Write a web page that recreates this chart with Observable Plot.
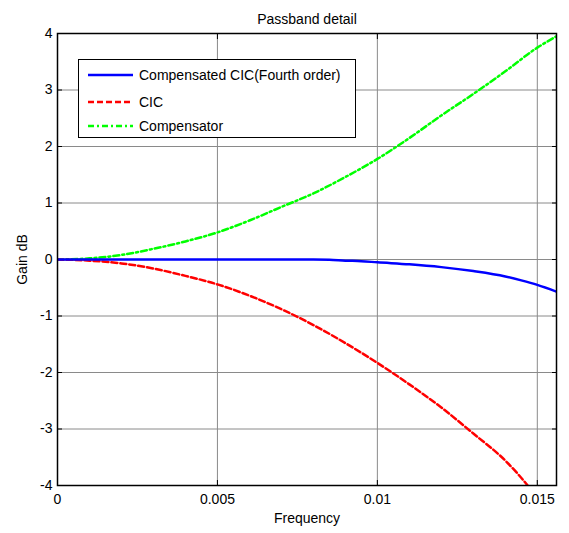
<!DOCTYPE html>
<html><head><meta charset="utf-8">
<script src="https://cdn.jsdelivr.net/npm/d3@7"></script>
<script src="https://cdn.jsdelivr.net/npm/@observablehq/plot@0.6"></script>
<style>
body{margin:0;background:#fff;font-family:"Liberation Sans",Arial,sans-serif}
#wrap{position:relative;width:569px;height:533px}
#legend{position:absolute;left:78px;top:59px}
</style></head><body><div id="wrap"></div>
<script>
const titleText = "Passband detail";
const xLabel = "Frequency";
const yLabel = "Gain dB";
const xTicks = [0, 0.005, 0.01, 0.015];
const xTickLabels = ["0", "0.005", "0.01", "0.015"];
const yTicks = [-4, -3, -2, -1, 0, 1, 2, 3, 4];
const yTickLabels = ["-4", "-3", "-2", "-1", "0", "1", "2", "3", "4"];
const seriesNames = ["Compensated CIC(Fourth order)", "CIC", "Compensator"];
const seriesColors = ["#0000ff", "#ff0000", "#00ff00"];
const seriesDash = [null, "6,3", "6,3,2,3"];

const compFreq = [0, 0.001, 0.002, 0.003, 0.004, 0.005, 0.006, 0.007, 0.008, 0.0085, 0.009, 0.0095, 0.010, 0.011, 0.012, 0.013, 0.014, 0.0145, 0.015, 0.0156];
const compensatedGain = [0, 0, 0, 0, 0, 0, 0, 0, 0, -0.005, -0.02, -0.03, -0.05, -0.085, -0.135, -0.205, -0.30, -0.37, -0.45, -0.57];
const compensatorFreq = [0, 0.001, 0.002, 0.003, 0.004, 0.005, 0.006, 0.007, 0.008, 0.009, 0.010, 0.011, 0.012, 0.013, 0.014, 0.015, 0.0156];
const compensatorGain = [0, 0.02, 0.08, 0.19, 0.32, 0.48, 0.69, 0.93, 1.17, 1.46, 1.78, 2.15, 2.55, 2.93, 3.33, 3.75, 3.95];
const cicFreq = [0, 0.001, 0.002, 0.003, 0.004, 0.005, 0.006, 0.007, 0.008, 0.009, 0.010, 0.011, 0.012, 0.013, 0.014, 0.0144, 0.0147];
const cicGain = [0, -0.02, -0.07, -0.16, -0.29, -0.44, -0.64, -0.88, -1.16, -1.48, -1.83, -2.21, -2.62, -3.08, -3.56, -3.80, -4.0];

const rows = [];
compensatorFreq.forEach((f, i) => rows.push({s: 2, f, g: compensatorGain[i]}));
cicFreq.forEach((f, i) => rows.push({s: 1, f, g: cicGain[i]}));
compFreq.forEach((f, i) => rows.push({s: 0, f, g: compensatedGain[i]}));

const font = "Liberation Sans, Arial, sans-serif";
const lineMarks = [2, 1, 0].map(s => Plot.line(rows.filter(r => r.s === s), {
  x: "f", y: "g", stroke: seriesColors[s], strokeWidth: 2.5,
  strokeDasharray: seriesDash[s] ?? undefined, curve: "monotone-x", clip: true
}));

const chart = Plot.plot({
  width: 569, height: 533,
  marginLeft: 57, marginRight: 13, marginTop: 33, marginBottom: 48,
  style: {fontFamily: font, fontSize: "14px", color: "#000", background: "#fff"},
  x: {domain: [0, 0.0156], ticks: xTicks},
  y: {domain: [-4, 4], ticks: yTicks},
  marks: [
    Plot.gridX(xTicks, {stroke: "#8a8a8a", strokeOpacity: 1, strokeWidth: 1}),
    Plot.gridY(yTicks, {stroke: "#8a8a8a", strokeOpacity: 1, strokeWidth: 1}),
    Plot.axisX(xTicks, {anchor: "bottom", tickSize: 0, tickPadding: 9, tickFormat: (d, i) => xTickLabels[i], label: xLabel, labelAnchor: "center", labelArrow: "none", labelOffset: 37, fontSize: 14}),
    Plot.axisX(xTicks, {anchor: "bottom", tickSize: -5, tickFormat: () => "", label: null, stroke: "#000"}),
    Plot.axisX(xTicks, {anchor: "top", tickSize: -5, tickFormat: () => "", label: null, stroke: "#000"}),
    Plot.axisY(yTicks, {anchor: "left", tickSize: 0, tickPadding: 5, tickFormat: (d, i) => yTickLabels[i], label: yLabel, labelAnchor: "center", labelArrow: "none", labelOffset: 40, fontSize: 14}),
    Plot.axisY(yTicks, {anchor: "left", tickSize: -5, tickFormat: () => "", label: null, stroke: "#000"}),
    Plot.axisY(yTicks, {anchor: "right", tickSize: -5, tickFormat: () => "", label: null, stroke: "#000"}),
    ...lineMarks,
    Plot.frame({stroke: "#000", strokeWidth: 1.5}),
    Plot.text([titleText], {frameAnchor: "top", dy: -19, text: d => d, fontSize: 14, fill: "#000"})
  ]
});
const wrap = document.getElementById("wrap");
wrap.appendChild(chart);

// legend
const lg = d3.select(wrap).append("svg").attr("id", "legend").attr("width", 280).attr("height", 80);
lg.append("rect").attr("x", 0.5).attr("y", 0.5).attr("width", 277).attr("height", 78).attr("fill", "#fff").attr("stroke", "#000").attr("stroke-width", 1);
const rowY = [16, 43, 67];
seriesNames.forEach((name, i) => {
  lg.append("line").attr("x1", 10).attr("x2", 55).attr("y1", rowY[i]).attr("y2", rowY[i])
    .attr("stroke", seriesColors[i]).attr("stroke-width", 2.5)
    .attr("stroke-dasharray", seriesDash[i]);
  lg.append("text").attr("x", 61).attr("y", rowY[i]).attr("dy", "0.35em")
    .attr("font-family", font).attr("font-size", 14).attr("fill", "#000").text(name);
});
</script></body></html>
